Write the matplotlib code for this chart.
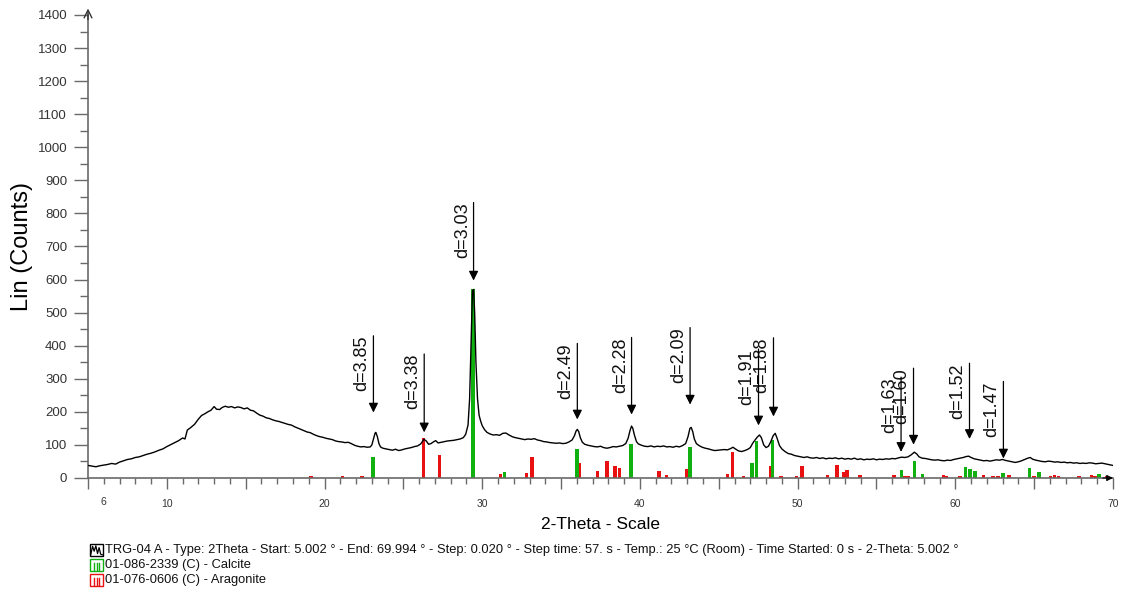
#!/usr/bin/python3
# XRD pattern of sample TRG-04 A with calcite / aragonite reference sticks
import numpy as np
import matplotlib
matplotlib.use('Agg')
import matplotlib.pyplot as plt
from matplotlib.ticker import MultipleLocator, FuncFormatter
from matplotlib.patches import Rectangle
from matplotlib.lines import Line2D

plt.rcParams['font.family'] = ['Liberation Sans', 'DejaVu Sans']

#--measured scan (2-theta in degrees, counts)
scanTheta = [
    5.00, 5.25, 5.50, 5.75, 6.00, 6.25, 6.50, 6.75, 7.00, 7.25, 7.50, 7.75, 8.00, 8.25, 8.50, 8.75,
    9.00, 9.25, 9.50, 9.75, 10.00, 10.25, 10.50, 10.75, 11.00, 11.15, 11.30, 11.50, 11.75, 12.00,
    12.20, 12.40, 12.60, 12.80, 13.00, 13.15, 13.35, 13.50, 13.70, 13.90, 14.10, 14.30, 14.50,
    14.70, 14.90, 15.10, 15.30, 15.50, 15.70, 15.90, 16.10, 16.30, 16.50, 16.70, 16.90, 17.10,
    17.30, 17.50, 17.70, 17.90, 18.10, 18.30, 18.50, 18.70, 18.90, 19.10, 19.30, 19.50, 19.70,
    19.90, 20.10, 20.30, 20.50, 20.70, 20.90, 21.10, 21.30, 21.50, 21.70, 21.90, 22.10, 22.30,
    22.50, 22.70, 22.90, 23.00, 23.10, 23.20, 23.25, 23.35, 23.45, 23.55, 23.70, 23.90, 24.10,
    24.30, 24.50, 24.70, 24.90, 25.10, 25.30, 25.50, 25.70, 25.90, 26.10, 26.30, 26.45, 26.60,
    26.75, 26.90, 27.05, 27.20, 27.40, 27.60, 27.80, 28.00, 28.20, 28.40, 28.60, 28.80, 28.95,
    29.10, 29.20, 29.30, 29.38, 29.45, 29.52, 29.60, 29.70, 29.80, 29.90, 30.00, 30.15, 30.30,
    30.50, 30.70, 30.90, 31.10, 31.30, 31.50, 31.70, 31.90, 32.10, 32.30, 32.50, 32.70, 32.90,
    33.10, 33.30, 33.50, 33.70, 33.90, 34.10, 34.30, 34.50, 34.70, 34.90, 35.10, 35.30, 35.50,
    35.70, 35.85, 35.95, 36.03, 36.12, 36.22, 36.35, 36.50, 36.70, 36.90, 37.10, 37.30, 37.50,
    37.70, 37.90, 38.10, 38.30, 38.50, 38.70, 38.90, 39.10, 39.25, 39.38, 39.47, 39.55, 39.65,
    39.78, 39.90, 40.10, 40.30, 40.50, 40.70, 40.90, 41.10, 41.30, 41.50, 41.70, 41.90, 42.10,
    42.30, 42.50, 42.70, 42.90, 43.05, 43.17, 43.25, 43.35, 43.45, 43.58, 43.75, 43.95, 44.15,
    44.35, 44.55, 44.75, 44.95, 45.15, 45.35, 45.55, 45.75, 45.90, 46.05, 46.25, 46.45, 46.65,
    46.85, 47.00, 47.15, 47.30, 47.45, 47.58, 47.70, 47.85, 48.00, 48.15, 48.30, 48.45, 48.58,
    48.70, 48.85, 49.00, 49.20, 49.40, 49.60, 49.80, 50.00, 50.20, 50.40, 50.60, 50.80, 51.00,
    51.20, 51.40, 51.60, 51.80, 52.00, 52.20, 52.40, 52.60, 52.80, 53.00, 53.20, 53.40, 53.60,
    53.80, 54.00, 54.20, 54.40, 54.60, 54.80, 55.00, 55.20, 55.40, 55.60, 55.80, 56.00, 56.20,
    56.40, 56.60, 56.80, 57.00, 57.20, 57.40, 57.55, 57.70, 57.90, 58.10, 58.30, 58.50, 58.70,
    58.90, 59.10, 59.30, 59.50, 59.70, 59.90, 60.10, 60.30, 60.50, 60.70, 60.85, 61.00, 61.20,
    61.40, 61.60, 61.80, 62.00, 62.20, 62.40, 62.60, 62.80, 63.00, 63.20, 63.40, 63.60, 63.80,
    64.00, 64.20, 64.40, 64.60, 64.75, 64.90, 65.10, 65.30, 65.50, 65.70, 65.90, 66.10, 66.30,
    66.50, 66.70, 66.90, 67.10, 67.30, 67.50, 67.70, 67.90, 68.10, 68.30, 68.50, 68.70, 68.90,
    69.10, 69.30, 69.50, 69.70, 69.90, 69.99]
scanCounts = [
    38, 36, 34, 37, 39, 41, 44, 42, 48, 52, 56, 58, 62, 64, 68, 72,
    75, 79, 84, 88, 95, 101, 107, 113, 121, 118, 145, 152, 162, 178,
    189, 194, 200, 205, 216, 208, 207, 213, 217, 214, 216, 212, 215,
    213, 209, 212, 205, 203, 196, 190, 187, 182, 180, 176, 173, 171,
    168, 165, 162, 160, 155, 151, 147, 143, 139, 137, 132, 128, 125,
    123, 120, 118, 116, 112, 110, 109, 107, 108, 104, 99, 96, 94,
    95, 93, 94, 100, 118, 135, 138, 125, 104, 94, 90, 88, 86,
    84, 87, 83, 85, 88, 90, 92, 95, 97, 103, 117, 112, 102,
    104, 109, 113, 106, 108, 110, 112, 113, 114, 116, 118, 122, 132,
    160, 240, 420, 565, 570, 500, 350, 240, 190, 172, 158, 146, 138,
    133, 130, 131, 129, 135, 136, 130, 125, 122, 120, 118, 116, 118,
    117, 119, 115, 113, 110, 109, 107, 106, 105, 106, 104, 105, 109,
    115, 128, 142, 147, 140, 122, 108, 102, 99, 97, 95, 94, 96,
    92, 90, 92, 95, 94, 96, 98, 104, 120, 145, 157, 150, 130,
    110, 103, 99, 96, 95, 97, 94, 96, 95, 97, 94, 95, 93,
    96, 94, 98, 104, 125, 150, 153, 140, 118, 104, 98, 93, 90,
    88, 85, 83, 84, 85, 86, 85, 89, 93, 88, 82, 80, 83,
    87, 92, 105, 115, 124, 130, 122, 100, 92, 96, 110, 128, 135,
    120, 98, 88, 80, 74, 72, 68, 66, 64, 62, 64, 61, 60,
    62, 59, 61, 58, 60, 59, 61, 58, 60, 57, 59, 57, 60,
    56, 58, 55, 57, 56, 58, 55, 57, 56, 58, 57, 59, 58,
    61, 63, 62, 64, 70, 78, 73, 64, 60, 59, 57, 55, 54,
    55, 53, 52, 54, 53, 56, 58, 60, 62, 65, 66, 62, 58,
    56, 54, 52, 53, 51, 53, 55, 54, 56, 53, 51, 49, 47,
    49, 52, 56, 60, 62, 57, 54, 52, 50, 49, 51, 50, 48,
    49, 47, 48, 46, 47, 45, 46, 44, 45, 44, 46, 45, 43,
    44, 45, 43, 41, 39, 38]

#--reference sticks
calciteTheta = [23.06, 29.41, 31.42, 36.00, 39.42, 43.18, 47.12, 47.38, 48.42, 56.58, 57.42,
                57.92, 60.66, 60.94, 61.24, 63.02, 64.70, 65.32, 69.12]
calciteCounts = [63, 570, 17, 87, 102, 93, 45, 112, 116, 24, 52, 13, 33, 28, 22, 16, 30, 18, 13]

aragoniteTheta = [19.14, 21.15, 22.38, 26.28, 27.28, 31.15, 32.80, 33.16, 36.18, 37.30, 37.92,
                  38.42, 38.70, 41.20, 41.68, 42.95, 45.55, 45.87, 46.56, 48.30, 48.94, 49.93,
                  50.27, 51.90, 52.50, 52.92, 53.12, 53.97, 56.10, 56.80, 57.00, 59.25, 59.45,
                  60.30, 61.80, 62.40, 62.70, 63.40, 65.00, 66.05, 66.30, 66.55, 67.85, 68.65,
                  68.85, 69.60]
aragoniteCounts = [7, 7, 6, 120, 70, 13, 14, 62, 45, 22, 50, 36, 31, 22, 8, 28, 12, 80, 5, 36,
                   6, 7, 35, 8, 38, 18, 24, 8, 8, 6, 5, 8, 7, 6, 8, 6, 6, 8, 6, 7, 8, 7, 6,
                   8, 7, 5]

#--d-spacing markers: position, label, arrow start and arrow tip (counts)
markTheta = [23.10, 26.32, 29.45, 36.03, 39.47, 43.18, 47.52, 48.47, 56.56, 57.35, 60.90, 63.05]
markLabels = ['3.85', '3.38', '3.03', '2.49', '2.28', '2.09', '1.91', '1.88', '1.63', '1.60',
              '1.52', '1.47']
markTop = [430, 375, 833, 407, 425, 455, 390, 424, 305, 332, 347, 292]
markTip = [198, 138, 597, 177, 192, 222, 159, 186, 79, 101, 118, 59]

legendLines = [
    'TRG-04 A - Type: 2Theta - Start: 5.002 \u00b0 - End: 69.994 \u00b0 - Step: 0.020 \u00b0 - '
    'Step time: 57. s - Temp.: 25 \u00b0C (Room) - Time Started: 0 s - 2-Theta: 5.002 \u00b0',
    '01-086-2339 (C) - Calcite',
    '01-076-0606 (C) - Aragonite']

cGreen = '#10b010'
cRed = '#e81010'
cAxis = '#6a6a6a'


def plotSticks(ax):
    ax.bar(aragoniteTheta, aragoniteCounts, width=0.22, color=cRed, linewidth=0, zorder=2)
    ax.bar(calciteTheta, calciteCounts, width=0.22, color=cGreen, linewidth=0, zorder=2)


def plotMarkers(ax):
    for tt, lab, top, tip in zip(markTheta, markLabels, markTop, markTip):
        ax.annotate('', xy=(tt, tip), xytext=(tt, top),
                    arrowprops=dict(arrowstyle='-|>', color='k', lw=0.9,
                                    mutation_scale=14, shrinkA=0, shrinkB=0), zorder=4)
        ax.annotate('d=' + lab, xy=(tt, top), xytext=(-2, 0), textcoords='offset points',
                    rotation=90, ha='right', va='top', fontsize=13, color='#111111')


def setupAxes(ax):
    ax.set_xlim(5.0, 70.0)
    ax.set_ylim(0, 1400)
    for s in ['top', 'right']:
        ax.spines[s].set_visible(False)
    for s in ['left', 'bottom']:
        ax.spines[s].set_color(cAxis)
        ax.spines[s].set_linewidth(1.2)

    ax.yaxis.set_major_locator(MultipleLocator(100))
    ax.yaxis.set_minor_locator(MultipleLocator(50))
    ax.tick_params(axis='y', which='major', length=10, width=1, color=cAxis, pad=5,
                   labelsize=9.5, labelcolor='#333333')
    ax.tick_params(axis='y', which='minor', length=6, width=1, color=cAxis)

    ax.xaxis.set_major_locator(MultipleLocator(5))
    ax.xaxis.set_minor_locator(MultipleLocator(1))
    ax.xaxis.set_major_formatter(FuncFormatter(lambda v, p: '%d' % v if v % 10 == 0 and v > 5 else ''))
    ax.xaxis.set_minor_formatter(FuncFormatter(lambda v, p: '6' if abs(v - 6) < 1e-6 else ''))
    ax.tick_params(axis='x', which='both', direction='out', color=cAxis, width=1,
                   labelsize=7.5, labelcolor='#333333')
    #--minor labels get extra pad so the "6" sits on the same line as the major labels
    ax.tick_params(axis='x', which='major', length=8, pad=7)
    ax.tick_params(axis='x', which='minor', length=4, pad=10)

    #--axis arrows
    ax.annotate('', xy=(0, 1.014), xycoords='axes fraction', xytext=(0, 0.99),
                arrowprops=dict(arrowstyle='->', color='#333333', lw=1.0, mutation_scale=14,
                                shrinkA=0, shrinkB=0))
    ax.annotate('', xy=(1.0, 0), xycoords='axes fraction', xytext=(0.99, 0),
                arrowprops=dict(arrowstyle='-|>', color='k', lw=0.8, mutation_scale=9,
                                shrinkA=0, shrinkB=0))

    ax.set_ylabel('Lin (Counts)', fontsize=17, labelpad=3)
    ax.set_xlabel('2-Theta - Scale', fontsize=12.5, labelpad=6)


def addLegend(fig):
    x0, x1 = 90 / 1124, 103 / 1124
    ys = [550, 565, 580]
    colors = ['k', cGreen, cRed]
    for i, (y, c, txt) in enumerate(zip(ys, colors, legendLines)):
        yc = 1 - y / 593
        h = 12 / 593
        fig.add_artist(Rectangle((x0, yc - h / 2), x1 - x0, h, transform=fig.transFigure,
                                 fill=False, edgecolor=c, linewidth=1.0))
        w = x1 - x0
        if i == 0:
            px = [x0 + w * f for f in [0.05, 0.2, 0.32, 0.45, 0.58, 0.7, 0.82, 0.95]]
            py = [yc + h * f for f in [-0.4, 0.3, -0.1, 0.35, -0.3, 0.2, -0.35, -0.4]]
            fig.add_artist(Line2D(px, py, transform=fig.transFigure, color=c, lw=0.9))
        else:
            for f in [0.3, 0.5, 0.7]:
                fig.add_artist(Line2D([x0 + w * f] * 2, [yc - h * 0.45, yc + h * 0.15],
                                      transform=fig.transFigure, color=c, lw=1.0))
        fig.text(105 / 1124, yc, txt, fontsize=9.3, va='center', ha='left', color='#111111')


def main():
    fig = plt.figure(figsize=(11.24, 5.93), dpi=100)
    ax = fig.add_axes([88 / 1124, 1 - 478 / 593, (1113 - 88) / 1124, (478 - 15) / 593])
    setupAxes(ax)
    plotSticks(ax)
    ax.plot(scanTheta, scanCounts, color='k', lw=1.0, zorder=3)
    plotMarkers(ax)
    addLegend(fig)
    plt.savefig('out.png', dpi=100, facecolor='white')


if __name__ == "__main__":
    main()
